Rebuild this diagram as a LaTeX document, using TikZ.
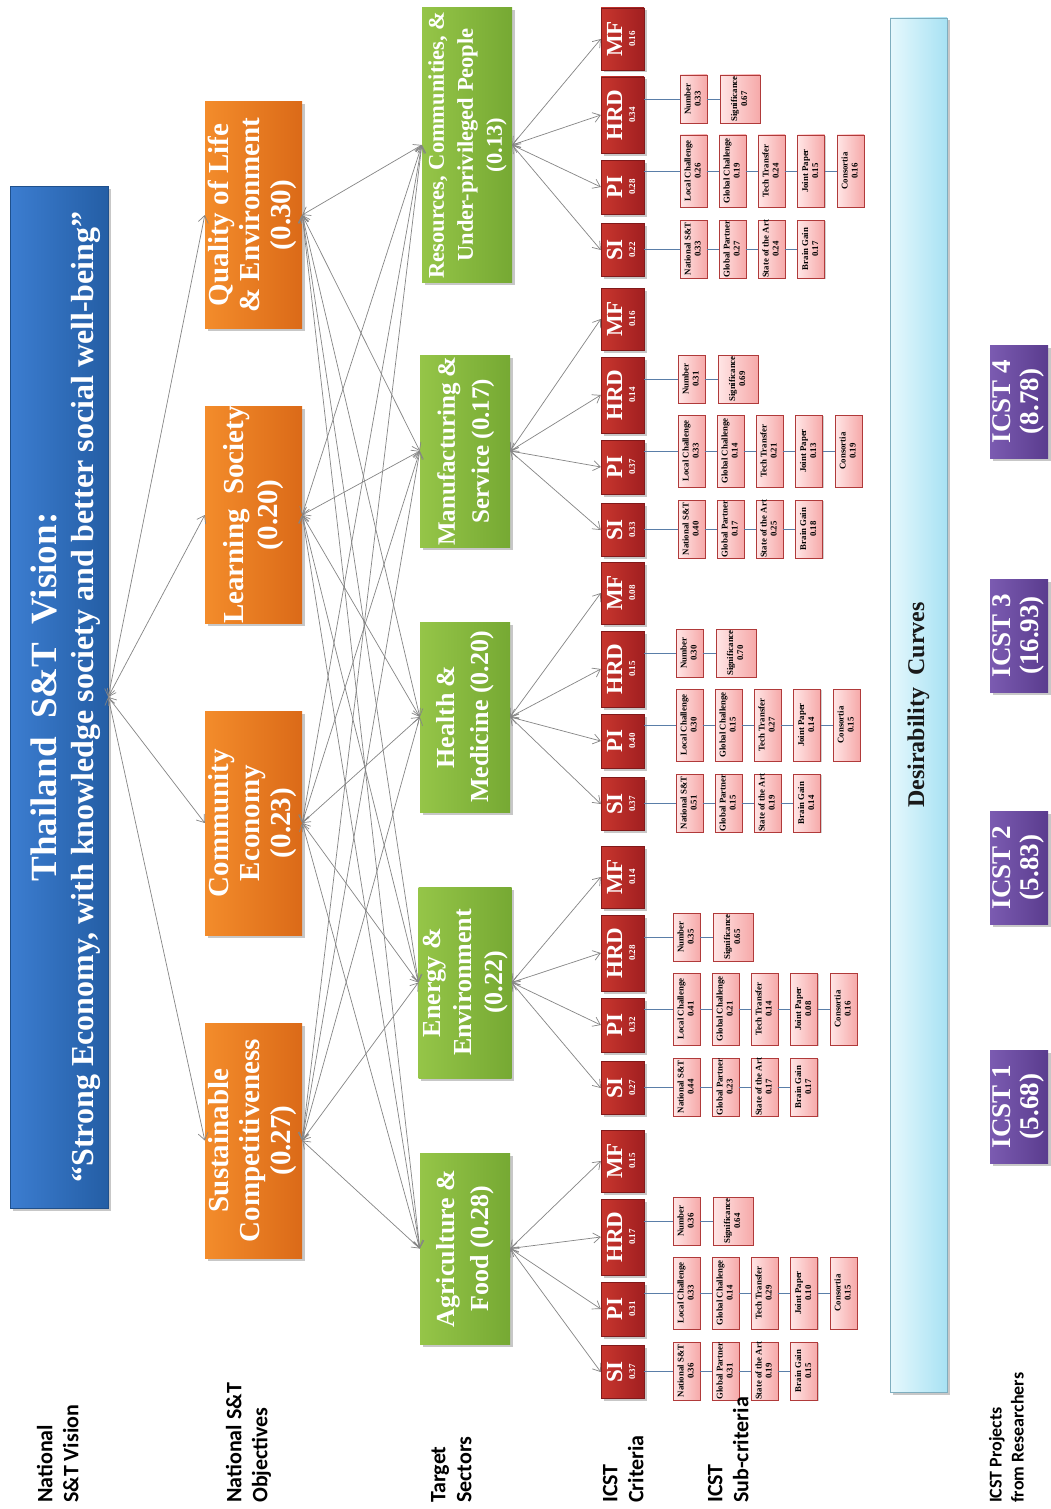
\documentclass[tikz,border=0pt]{standalone}
\usepackage{fontspec}
\setmainfont{Liberation Serif}
\newfontfamily\labelfont{Carlito}
\usepackage{graphicx}
\usetikzlibrary{arrows.meta,shadows}

\definecolor{vblueL}{HTML}{3C7DD0}
\definecolor{vblueR}{HTML}{245EA5}
\definecolor{orangeL}{HTML}{F38C2B}
\definecolor{orangeR}{HTML}{DB6A18}
\definecolor{greenL}{HTML}{95C548}
\definecolor{greenR}{HTML}{76A933}
\definecolor{redL}{HTML}{C8362E}
\definecolor{redR}{HTML}{A11F20}
\definecolor{pinkL}{HTML}{FFE6E6}
\definecolor{pinkR}{HTML}{F6A9A9}
\definecolor{pinkEdge}{HTML}{B03A3A}
\definecolor{cyanL}{HTML}{E6F8FD}
\definecolor{cyanR}{HTML}{A8E2F3}
\definecolor{cyanEdge}{HTML}{7FAEBF}
\definecolor{purpleL}{HTML}{7B5BB1}
\definecolor{purpleR}{HTML}{5A3C8E}
\definecolor{linkgray}{HTML}{858585}
\definecolor{subline}{HTML}{5A7EA8}

% rotated multi-line text: size, baselineskip, lines
\newcommand\vtxt[3]{\rotatebox{90}{\fontsize{#1}{#2}\selectfont\begin{tabular}{@{}c@{}}#3\end{tabular}}}
% criterion label: acronym over weight
\newcommand\crittxt[2]{\rotatebox{90}{\fontsize{9}{10}\selectfont\begin{tabular}{@{}c@{}}{\fontsize{23}{23}\selectfont #1}\\[3pt] #2\end{tabular}}}
% sub-criterion label: name over weight
\newcommand\subtxt[2]{\rotatebox{90}{\fontsize{8.8}{10}\selectfont\begin{tabular}{@{}c@{}}#1\\#2\end{tabular}}}
% level captions on the left margin
\newcommand\captxt[3]{\rotatebox{90}{\labelfont\bfseries\fontsize{#1}{#2}\selectfont\begin{tabular}{@{}l@{}}#3\end{tabular}}}

\tikzset{
  shadowed/.style={general shadow={fill=black, opacity=0.22, shadow xshift=2.5pt, shadow yshift=-2.5pt}},
  box/.style={rectangle, inner sep=0pt, font=\bfseries},
  visionbox/.style={box, text=white, left color=vblueL, right color=vblueR, draw=vblueR!85!black, line width=0.4pt, shadowed},
  objbox/.style={box, text=white, left color=orangeL, right color=orangeR, minimum width=97pt, shadowed},
  secbox/.style={box, text=white, left color=greenL, right color=greenR, minimum width=90pt, shadowed},
  critbox/.style={box, text=white, left color=redL, right color=redR, draw=redR!80!black, line width=0.4pt, minimum width=43pt, shadowed},
  subbox/.style={box, text=black, left color=pinkL, right color=pinkR, draw=pinkEdge, line width=0.6pt, minimum width=27pt,
    general shadow={fill=black, opacity=0.18, shadow xshift=1.2pt, shadow yshift=-1.2pt}},
  curvebox/.style={box, text=black!90, left color=cyanL, right color=cyanR, draw=cyanEdge, line width=0.8pt, shadowed},
  projbox/.style={box, text=white, left color=purpleL, right color=purpleR, minimum width=58pt, minimum height=113pt, shadowed},
  caption/.style={inner sep=0pt, anchor=south west, text=black},
  link/.style={draw=linkgray, line width=0.7pt,
    arrows={Straight Barb[length=7pt,width=10pt]-Straight Barb[length=7pt,width=10pt]}},
  subrule/.style={draw=subline, line width=0.9pt},
}

% four criteria of one sector; #1 prefix, #2 SI centre y, #3 sector node, #4-#7 weights SI, PI, HRD, MF
\newcommand\critgroup[7]{%
  \node[critbox, minimum height=53pt] (#1si) at (622.5,#2) {\crittxt{SI}{#4}};
  \node[critbox, minimum height=54pt] (#1pi) at (622.5,#2-63) {\crittxt{PI}{#5}};
  \node[critbox, minimum height=76pt] (#1hrd) at (622.5,#2-135) {\crittxt{HRD}{#6}};
  \node[critbox, minimum height=62pt] (#1mf) at (622.5,#2-211) {\crittxt{MF}{#7}};
  \foreach \c in {si,pi,hrd,mf} \draw[link] (#3.east) -- (#1\c.west);
}
% SI sub-criteria; #1 prefix, #2 SI centre y, #3 x offset, #4-#7 weights
\newcommand\sisubs[7]{%
  \node[subbox, minimum height=58pt] (#1sa) at (686.5+#3,#2-1) {\subtxt{National S\&T}{#4}};
  \node[subbox, minimum height=58pt] (#1sb) at (725.5+#3,#2-1) {\subtxt{Global Partner}{#5}};
  \node[subbox, minimum height=58pt] (#1sc) at (764.5+#3,#2-1) {\subtxt{State of the Art}{#6}};
  \node[subbox, minimum height=58pt] (#1sd) at (804+#3,#2-1) {\subtxt{Brain Gain}{#7}};
  \draw[subrule] (#1si.east |- #1sa.west) -- (#1sa.west);
  \draw[subrule] (#1sa) -- (#1sb);
  \draw[subrule] (#1sb) -- (#1sc);
  \draw[subrule] (#1sc) -- (#1sd);
}
% PI sub-criteria; #1 prefix, #2 SI centre y, #3 x offset, #4-#8 weights
\newcommand\pisubs[8]{%
  \node[subbox, minimum height=72pt] (#1pa) at (686.5+#3,#2-79) {\subtxt{Local Challenge}{#4}};
  \node[subbox, minimum height=72pt] (#1pb) at (725.5+#3,#2-79) {\subtxt{Global Challenge}{#5}};
  \node[subbox, minimum height=72pt] (#1pc) at (764.5+#3,#2-79) {\subtxt{Tech Transfer}{#6}};
  \node[subbox, minimum height=72pt] (#1pd) at (804+#3,#2-79) {\subtxt{Joint Paper}{#7}};
  \node[subbox, minimum height=72pt] (#1pe) at (843.5+#3,#2-79) {\subtxt{Consortia}{#8}};
  \draw[subrule] (#1pi.east |- #1pa.west) -- (#1pa.west);
  \draw[subrule] (#1pa) -- (#1pb);
  \draw[subrule] (#1pb) -- (#1pc);
  \draw[subrule] (#1pc) -- (#1pd);
  \draw[subrule] (#1pd) -- (#1pe);
}
% HRD sub-criteria; #1 prefix, #2 SI centre y, #3 x offset, #4-#5 weights
\newcommand\hrdsubs[5]{%
  \node[subbox, minimum height=48pt] (#1ha) at (686.5+#3,#2-151) {\subtxt{Number}{#4}};
  \node[subbox, minimum height=48pt, minimum width=40pt] (#1hb) at (733+#3,#2-151) {\subtxt{Significance}{#5}};
  \draw[subrule] (#1hrd.east |- #1ha.west) -- (#1ha.west);
  \draw[subrule] (#1ha) -- (#1hb);
}

\begin{document}
\begin{tikzpicture}[x=1pt, y=-1pt]
  \fill[white] (0,0) rectangle (1050,1509);
  \useasboundingbox (0,0) rectangle (1050,1509);

  % vision
  \node[visionbox, minimum width=98pt, minimum height=1022pt] (vision) at (59,697)
    {\hspace*{18pt}\rotatebox{90}{\fontsize{32}{37}\selectfont\begin{tabular}{@{}c@{}}{\fontsize{37}{37}\selectfont Thailand\ \ S\&T\ \ Vision:}\\ “Strong Economy, with knowledge society and better social well-being”\end{tabular}}};

  % objectives
  \node[objbox, minimum height=235pt] (osust) at (253.5,1140.5) {\vtxt{29}{31}{Sustainable\\Competitiveness\\(0.27)}};
  \node[objbox, minimum height=224pt] (ocomm) at (253.5,823) {\vtxt{29}{31}{Community\\Economy\\(0.23)}};
  \node[objbox, minimum height=214pt] (olearn) at (253.5,515) {\vtxt{29}{34}{Learning\ \ Society\\(0.20)}};
  \node[objbox, minimum height=226pt] (oqual) at (253.5,215) {\vtxt{29}{31}{Quality of Life\\\&~Environment\\(0.30)}};

  % target sectors
  \node[secbox, minimum height=191pt] (sagri) at (465,1248.5) {\vtxt{26}{34}{Agriculture \&\\Food (0.28)}};
  \node[secbox, minimum height=191pt] (senergy) at (465,982.5) {\vtxt{26}{31}{Energy \&\\Environment\\(0.22)}};
  \node[secbox, minimum height=190pt] (shealth) at (465,717) {\vtxt{26}{34}{Health \&\\Medicine (0.20)}};
  \node[secbox, minimum height=192pt] (smanuf) at (465,451) {\vtxt{25}{34}{Manufacturing \&\\Service (0.17)}};
  \node[secbox, minimum height=274pt] (sres) at (467,145) {\vtxt{22.5}{29}{Resources, Communities, \&\\Under-privileged People\\(0.13)}};

  % vision to objectives
  \foreach \o in {oqual,olearn,ocomm,osust} \draw[link] (vision.east) -- (\o.west);
  % objectives to sectors
  \foreach \o in {oqual,olearn,ocomm,osust}
    \foreach \s in {sagri,senergy,shealth,smanuf,sres}
      \draw[link] (\o.east) -- (\s.west);

  % criteria and sub-criteria per sector
  \critgroup{ga}{1372}{sagri}{0.37}{0.31}{0.17}{0.15}
  \sisubs{ga}{1372}{0}{0.36}{0.31}{0.19}{0.15}
  \pisubs{ga}{1372}{0}{0.33}{0.14}{0.29}{0.10}{0.15}
  \hrdsubs{ga}{1372}{0}{0.36}{0.64}

  \critgroup{ge}{1088}{senergy}{0.27}{0.32}{0.28}{0.14}
  \sisubs{ge}{1088}{0}{0.44}{0.23}{0.17}{0.17}
  \pisubs{ge}{1088}{0}{0.41}{0.21}{0.14}{0.08}{0.16}
  \hrdsubs{ge}{1088}{0}{0.35}{0.65}

  \critgroup{gh}{804}{shealth}{0.37}{0.40}{0.15}{0.08}
  \sisubs{gh}{804}{3}{0.51}{0.15}{0.19}{0.14}
  \pisubs{gh}{804}{3}{0.30}{0.15}{0.27}{0.14}{0.15}
  \hrdsubs{gh}{804}{3}{0.30}{0.70}

  \critgroup{gm}{530}{smanuf}{0.33}{0.37}{0.14}{0.16}
  \sisubs{gm}{530}{5}{0.40}{0.17}{0.25}{0.18}
  \pisubs{gm}{530}{5}{0.33}{0.14}{0.21}{0.13}{0.19}
  \hrdsubs{gm}{530}{5}{0.31}{0.69}

  \critgroup{gr}{250}{sres}{0.22}{0.28}{0.34}{0.16}
  \sisubs{gr}{250}{7}{0.33}{0.27}{0.24}{0.17}
  \pisubs{gr}{250}{7}{0.26}{0.19}{0.24}{0.15}{0.16}
  \hrdsubs{gr}{250}{7}{0.33}{0.67}

  % desirability curves
  \node[curvebox, minimum width=57pt, minimum height=1374pt] (curves) at (918.5,705) {\vtxt{24}{28}{Desirability\ \ Curves}};

  % projects
  \node[projbox] (p4) at (1019,401.5) {\vtxt{27}{28}{ICST 4\\(8.78)}};
  \node[projbox] (p3) at (1019,635.5) {\vtxt{27}{28}{ICST 3\\(16.93)}};
  \node[projbox] (p2) at (1019,867.5) {\vtxt{27}{28}{ICST 2\\(5.83)}};
  \node[projbox] (p1) at (1019,1106.5) {\vtxt{27}{28}{ICST 1\\(5.68)}};

  % level captions
  \node[caption] (capvision) at (34,1503) {\captxt{22}{26}{National\\S\&T Vision}};
  \node[caption] (capobj) at (223,1503) {\captxt{22}{26}{National S\&T\\Objectives}};
  \node[caption] (capsec) at (427,1503) {\captxt{22}{26}{Target\\Sectors}};
  \node[caption] (capcrit) at (599,1503) {\captxt{22}{26}{ICST\\Criteria}};
  \node[caption] (capsub) at (704,1503) {\captxt{22}{26}{ICST\\Sub-criteria}};
  \node[caption] (capproj) at (986,1503) {\captxt{18}{22}{ICST Projects\\from Researchers}};
\end{tikzpicture}
\end{document}
